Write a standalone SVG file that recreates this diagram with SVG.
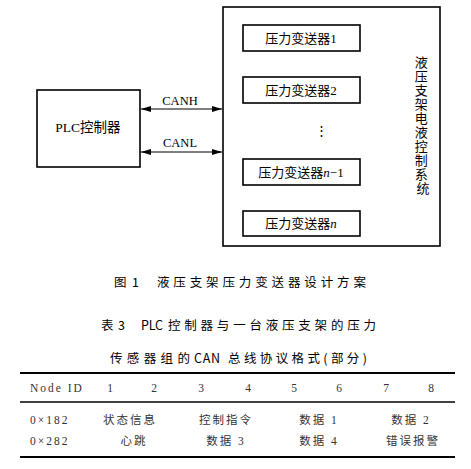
<svg xmlns="http://www.w3.org/2000/svg" width="471" height="469" viewBox="0 0 471 469">
<defs>
<marker id="ah" viewBox="0 0 10 6" refX="10" refY="3" markerWidth="10" markerHeight="6" markerUnits="userSpaceOnUse" orient="auto-start-reverse">
<path d="M0,0 L10,3 L0,6 Z" fill="#000"/>
</marker>
</defs>
<style>
.box{fill:#fff;stroke:#000;stroke-width:1.6}
.t{font-family:"Liberation Serif","Noto Sans CJK SC",serif;font-size:13px;fill:#000}
.c{text-anchor:middle}
.cap{font-family:"Noto Sans CJK SC","Liberation Sans",sans-serif;font-size:12.5px;fill:#000}
.tb{font-family:"Liberation Serif","Noto Sans CJK SC",serif;font-size:11.5px;fill:#333;letter-spacing:2px}
.ln{stroke:#000;fill:none}
</style>
<rect width="471" height="469" fill="#fff"/>
<g id="system">
<rect class="box" x="223" y="7" width="217" height="239"/>
<text class="t">
<tspan x="423" y="67" text-anchor="middle">液</tspan>
<tspan x="423" y="81" text-anchor="middle">压</tspan>
<tspan x="423" y="95" text-anchor="middle">支</tspan>
<tspan x="423" y="109" text-anchor="middle">架</tspan>
<tspan x="423" y="123" text-anchor="middle">电</tspan>
<tspan x="423" y="137" text-anchor="middle">液</tspan>
<tspan x="423" y="151" text-anchor="middle">控</tspan>
<tspan x="423" y="165" text-anchor="middle">制</tspan>
<tspan x="423" y="179" text-anchor="middle">系</tspan>
<tspan x="423" y="193" text-anchor="middle">统</tspan>
</text>
</g>
<g id="plc">
<rect class="box" x="37" y="90" width="103" height="77"/>
<text class="t c" x="88" y="132" style="font-size:13.5px">PLC控制器</text>
</g>
<g id="t1">
<rect class="box" x="243" y="25" width="117" height="26"/>
<text class="t c" x="301" y="43">压力变送器1</text>
</g>
<g id="t2">
<rect class="box" x="243" y="77" width="117" height="26"/>
<text class="t c" x="301" y="95">压力变送器2</text>
</g>
<g id="dots">
<text class="t c" x="321" y="135">⋮</text>
</g>
<g id="tn1">
<rect class="box" x="243" y="159" width="117" height="26"/>
<text class="t c" x="301" y="177">压力变送器<tspan font-style="italic">n</tspan>−1</text>
</g>
<g id="tn">
<rect class="box" x="243" y="211" width="117" height="25"/>
<text class="t c" x="301" y="228">压力变送器<tspan font-style="italic">n</tspan></text>
</g>
<g id="connectors">
<line class="ln" x1="141" y1="109" x2="222" y2="109" stroke-width="1.2" marker-start="url(#ah)" marker-end="url(#ah)"/>
<line class="ln" x1="141" y1="152" x2="222" y2="152" stroke-width="1.2" marker-start="url(#ah)" marker-end="url(#ah)"/>
<text class="t c" x="180" y="105" style="font-size:12.5px">CANH</text>
<text class="t c" x="180" y="147" style="font-size:12.5px">CANL</text>
</g>
<g id="captions">
<text class="cap" x="114" y="287">图</text>
<text class="cap" x="132" y="287">1</text>
<text class="cap" x="157" y="287" textLength="209" lengthAdjust="spacing">液压支架压力变送器设计方案</text>
<text class="cap" x="101" y="330">表</text>
<text class="cap" x="118" y="330">3</text>
<text class="cap" x="141" y="330" textLength="22" lengthAdjust="spacing">PLC</text>
<text class="cap" x="168" y="330" textLength="208" lengthAdjust="spacing">控制器与一台液压支架的压力</text>
<text class="cap" x="110" y="363" textLength="80" lengthAdjust="spacing">传感器组的</text>
<text class="cap" x="194" y="363" textLength="26" lengthAdjust="spacing">CAN</text>
<text class="cap" x="228" y="363" textLength="139" lengthAdjust="spacing">总线协议格式(部分)</text>
</g>
<g id="table">
<line class="ln" x1="20" y1="373" x2="455" y2="373" stroke-width="2"/>
<line class="ln" x1="20" y1="402" x2="455" y2="402" stroke-width="1.6"/>
<line class="ln" x1="20" y1="457" x2="455" y2="457" stroke-width="2"/>
<text class="tb" x="30" y="392">Node ID</text>
<text class="tb c" x="111" y="392">1</text>
<text class="tb c" x="155" y="392">2</text>
<text class="tb c" x="202" y="392">3</text>
<text class="tb c" x="249" y="392">4</text>
<text class="tb c" x="295" y="392">5</text>
<text class="tb c" x="340" y="392">6</text>
<text class="tb c" x="387" y="392">7</text>
<text class="tb c" x="432" y="392">8</text>
<text class="tb" x="30" y="424">0×182</text>
<text class="tb c" x="130" y="424">状态信息</text>
<text class="tb c" x="226" y="424">控制指令</text>
<text class="tb c" x="319" y="424">数据 1</text>
<text class="tb c" x="411" y="424">数据 2</text>
<text class="tb" x="30" y="445">0×282</text>
<text class="tb c" x="134" y="445">心跳</text>
<text class="tb c" x="226" y="445">数据 3</text>
<text class="tb c" x="319" y="445">数据 4</text>
<text class="tb c" x="413" y="445">错误报警</text>
</g>
</svg>
